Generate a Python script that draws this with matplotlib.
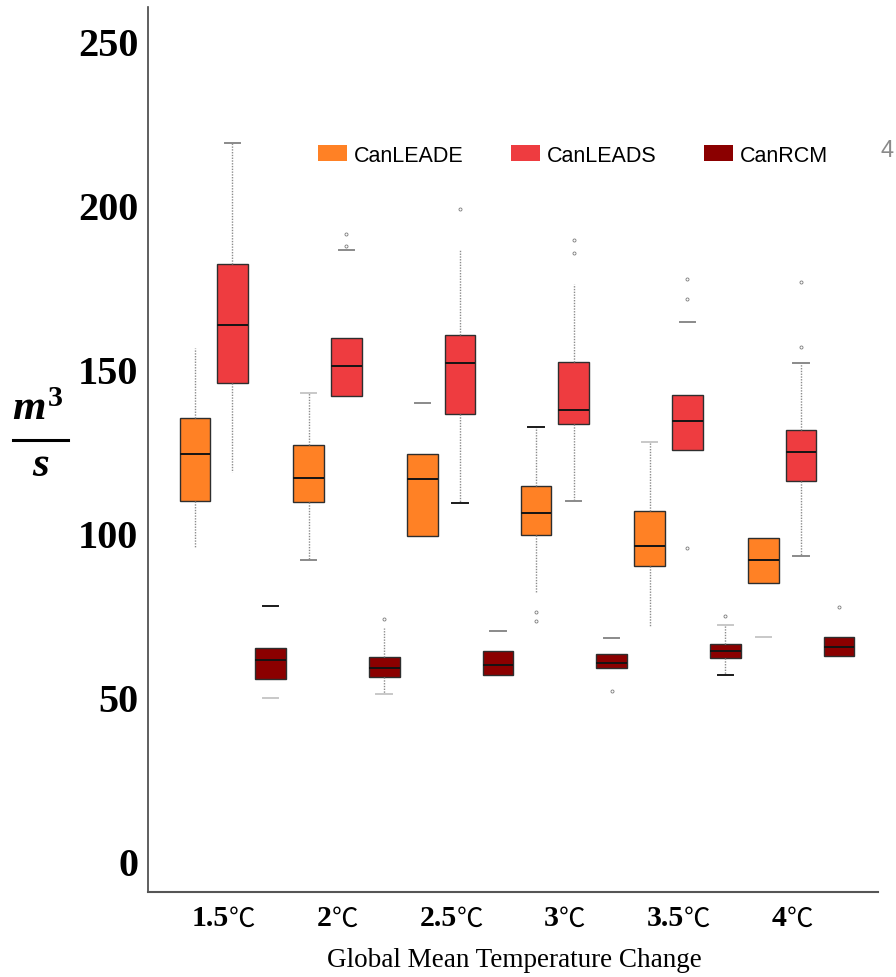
import matplotlib
matplotlib.use("Agg")
import matplotlib.pyplot as plt
import matplotlib.transforms as mtransforms
from matplotlib.lines import Line2D
from matplotlib.patches import Patch
from matplotlib.offsetbox import TextArea, HPacker, AnnotationBbox

plt.rcParams["mathtext.fontset"] = "custom"
plt.rcParams["mathtext.rm"] = "Liberation Serif:bold"
plt.rcParams["mathtext.it"] = "Liberation Serif:italic:bold"
plt.rcParams["mathtext.bf"] = "Liberation Serif:bold"

# ---------------------------------------------------------------- data (m3/s)
categories = ["1.5", "2", "2.5", "3", "3.5", "4"]
series_names = ["CanLEADE", "CanLEADS", "CanRCM"]

leade_q1 = [109.8, 109.4, 99.2, 99.4, 90.1, 84.8]
leade_med = [124.1, 116.8, 116.4, 106.0, 96.0, 91.8]
leade_q3 = [135.1, 126.8, 124.0, 114.2, 106.7, 98.5]
leade_lo = [95.7, 91.9, None, 81.6, 71.4, 68.4]
leade_hi = [156.4, 142.8, 139.7, 132.2, 127.7, None]
leade_out = [[], [], [], [75.8, 73.1], [], []]

leads_q1 = [145.8, 141.8, 136.2, 133.2, 125.3, 115.9]
leads_med = [163.5, 150.9, 151.9, 137.5, 134.1, 124.6]
leads_q3 = [181.9, 159.6, 160.3, 152.3, 142.0, 131.5]
leads_lo = [118.5, None, 109.1, 109.8, None, 92.9]
leads_hi = [218.8, 186.4, 186.3, 175.9, 164.2, 151.9]
leads_out = [[], [191.3, 187.5], [198.8], [189.3, 185.3],
             [177.4, 171.5, 95.5], [176.4, 156.7]]

rcm_q1 = [55.4, 56.0, 56.8, 58.7, 61.9, 62.6]
rcm_med = [61.3, 59.0, 59.8, 60.4, 64.0, 65.4]
rcm_q3 = [64.9, 62.3, 64.1, 63.0, 66.3, 68.4]
rcm_lo = [49.7, 50.8, None, None, 56.7, None]
rcm_hi = [77.7, 70.9, 70.0, 67.9, 72.0, None]
rcm_out = [[], [73.9], [], [51.9], [74.6], [77.6]]

yticks = [0, 50, 100, 150, 200, 250]

# ---------------------------------------------------------------- styling
colors = ["#FF8125", "#EE3C40", "#8B0000"]
offsets = [-0.33, 0.0, 0.334]
box_w = 0.27

# whisker line visibility (lower, upper) and cap colour ('' = hidden)
line_lo = [[1, 1, 0, 1, 1, 0], [1, 0, 1, 1, 0, 1], [0, 1, 0, 0, 1, 0]]
line_hi = [[1, 1, 0, 1, 1, 0], [1, 0, 1, 1, 0, 1], [0, 1, 0, 0, 1, 0]]
cap_lo = [["", "g", "", "", "", "l"], ["", "", "k", "g", "", "g"],
          ["l", "l", "", "", "k", ""]]
cap_hi = [["", "l", "g", "k", "l", ""], ["g", "g", "", "", "g", "g"],
          ["k", "", "g", "g", "l", ""]]
cap_colors = {"k": "#1a1a1a", "g": "#8a8a8a", "l": "#c8c8c8"}

series = [
    (leade_q1, leade_med, leade_q3, leade_lo, leade_hi, leade_out),
    (leads_q1, leads_med, leads_q3, leads_lo, leads_hi, leads_out),
    (rcm_q1, rcm_med, rcm_q3, rcm_lo, rcm_hi, rcm_out),
]

fig = plt.figure(figsize=(8.96, 9.78), dpi=100)
ax = fig.add_axes([148 / 896, 85 / 978, 730 / 896, 885 / 978])

for k, (q1, med, q3, lo, hi, out) in enumerate(series):
    for i in range(len(categories)):
        stats = {
            "q1": q1[i], "med": med[i], "q3": q3[i],
            "whislo": lo[i] if lo[i] is not None else q1[i],
            "whishi": hi[i] if hi[i] is not None else q3[i],
            "fliers": out[i],
        }
        art = ax.bxp([stats], positions=[i + offsets[k]], widths=box_w,
                     capwidths=box_w * 0.5, patch_artist=True,
                     manage_ticks=False,
                     boxprops=dict(facecolor=colors[k], edgecolor="#2e2e2e",
                                   linewidth=1.0),
                     medianprops=dict(color="#141414", linewidth=1.4),
                     whiskerprops=dict(color="#8c8c8c", linewidth=1.0,
                                       linestyle=(0, (1, 1))),
                     capprops=dict(linewidth=1.4),
                     flierprops=dict(marker="o", markersize=2.2,
                                     markerfacecolor="none",
                                     markeredgecolor="#7a7a7a",
                                     markeredgewidth=0.6))
        w_lo, w_hi = art["whiskers"]
        c_lo, c_hi = art["caps"]
        w_lo.set_visible(bool(line_lo[k][i]) and lo[i] is not None)
        w_hi.set_visible(bool(line_hi[k][i]) and hi[i] is not None)
        for cap, code, val in ((c_lo, cap_lo[k][i], lo[i]),
                               (c_hi, cap_hi[k][i], hi[i])):
            if code and val is not None:
                cap.set_color(cap_colors[code])
            else:
                cap.set_visible(False)

ax.set_xlim(-0.743, 5.677)
ax.set_ylim(-9.45, 260.4)
ax.set_yticks(yticks)
ax.set_yticklabels([str(v) for v in yticks], fontfamily="Liberation Serif",
                   fontweight="bold", fontsize=29)
ax.tick_params(axis="y", length=0, pad=7)
ax.set_xticks([])
for side in ("top", "right"):
    ax.spines[side].set_visible(False)
ax.spines["left"].set_color("#444444")
ax.spines["left"].set_linewidth(1.2)
ax.spines["bottom"].set_color("#555555")
ax.spines["bottom"].set_linewidth(1.5)

# category labels: bold number followed by a light degree-Celsius sign
trans = mtransforms.blended_transform_factory(ax.transData, ax.transAxes)
for i, cat in enumerate(categories):
    pack = HPacker(children=[
        TextArea(cat, textprops=dict(fontfamily="Liberation Serif",
                                     fontweight="bold", fontsize=21.5)),
        TextArea("℃", textprops=dict(family=["Noto Sans CJK SC", "DejaVu Sans"],
                                     fontweight="light", fontsize=19)),
    ], pad=0, sep=0, align="baseline")
    ab = AnnotationBbox(pack, (i - 0.077, 0), xycoords=trans, xybox=(0, -9),
                        boxcoords="offset points", box_alignment=(0.5, 1.0),
                        frameon=False, pad=0)
    ax.add_artist(ab)

fig.text(514 / 896, 1 - 961 / 978, "Global Mean Temperature Change",
         ha="center", va="center", fontfamily="Liberation Serif", fontsize=19.5)

# unit label drawn as a stacked fraction m^3 / s
fig.text(38 / 896, 1 - 420 / 978, r"$m^{3}$", ha="center", va="baseline",
         fontsize=31)
fig.text(41 / 896, 1 - 476 / 978, r"$s$", ha="center", va="baseline",
         fontsize=31)
fig.add_artist(Line2D([13 / 896, 68 / 896], [1 - 441 / 978, 1 - 441 / 978],
                      transform=fig.transFigure, color="black", linewidth=2.2))

handles = [Patch(facecolor=c, edgecolor="none") for c in colors]
fig.legend(handles, series_names, loc="center left",
           bbox_to_anchor=(318 / 896, 1 - 156 / 978), ncol=3, frameon=False,
           prop=dict(family="Liberation Sans", size=15.5),
           handlelength=1.35, handleheight=0.8, handletextpad=0.3,
           columnspacing=2.23, borderpad=0, borderaxespad=0)
fig.text(880 / 896, 1 - 151 / 978, "4", ha="left", va="center",
         fontfamily="Liberation Sans", fontsize=17, color="#8a8a8a")

fig.savefig("out.png", dpi=100)
